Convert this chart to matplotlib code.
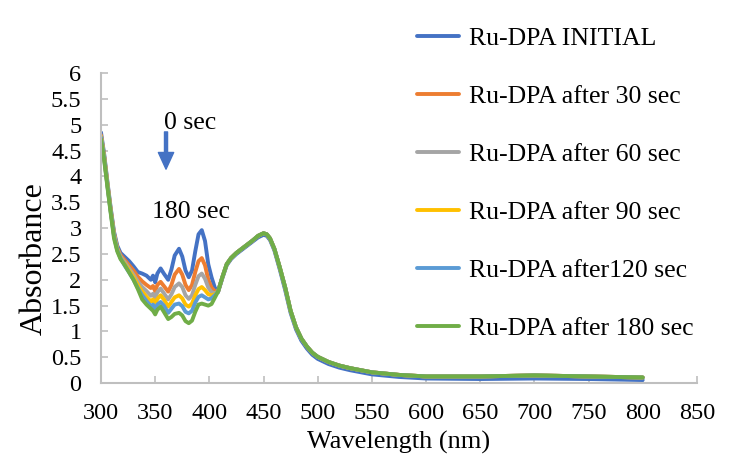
import numpy as np
import matplotlib.pyplot as plt

plt.rcParams['font.family'] = ['Liberation Serif', 'DejaVu Serif']

# wavelengths (nm) for the structured region, shared by all series
wl_front = [300, 303, 306, 309, 312, 315, 318, 322, 326, 330, 334, 338, 342, 346, 348,
            350, 352, 355, 358, 362, 365, 368, 372, 375, 378, 381, 384, 387, 390, 393,
            396, 399, 402, 405]
# wavelengths for the common band and tail
wl_tail = [408, 412, 416, 420, 425, 430, 435, 440, 445, 450, 453, 456, 460, 465, 470,
           475, 480, 485, 490, 495, 500, 510, 520, 530, 540, 550, 575, 600, 650, 700,
           750, 800]

initial = [4.85, 4.42, 3.88, 3.38, 2.93, 2.66, 2.52, 2.44, 2.36, 2.26, 2.15, 2.12, 2.08, 2.00, 2.08,
           1.95, 2.12, 2.22, 2.12, 2.00, 2.20, 2.47, 2.60, 2.45, 2.18, 2.05, 2.18, 2.55, 2.88, 2.96,
           2.75, 2.30, 2.05, 1.85]
s30 = [4.80, 4.38, 3.85, 3.35, 2.90, 2.62, 2.48, 2.38, 2.28, 2.18, 2.06, 1.97, 1.90, 1.84, 1.88,
       1.78, 1.90, 1.96, 1.88, 1.77, 1.90, 2.10, 2.21, 2.10, 1.90, 1.80, 1.90, 2.15, 2.36, 2.42,
       2.28, 2.00, 1.85, 1.78]
s60 = [4.78, 4.36, 3.83, 3.33, 2.88, 2.60, 2.45, 2.34, 2.22, 2.10, 1.97, 1.86, 1.78, 1.69, 1.73,
       1.64, 1.76, 1.83, 1.74, 1.62, 1.72, 1.86, 1.93, 1.86, 1.70, 1.63, 1.70, 1.90, 2.07, 2.12,
       2.02, 1.85, 1.76, 1.74]
s90 = [4.77, 4.35, 3.82, 3.32, 2.86, 2.58, 2.43, 2.30, 2.18, 2.05, 1.90, 1.77, 1.67, 1.58, 1.62,
       1.52, 1.63, 1.70, 1.62, 1.48, 1.57, 1.66, 1.70, 1.64, 1.52, 1.48, 1.54, 1.70, 1.82, 1.86,
       1.80, 1.72, 1.70, 1.72]
s120 = [4.75, 4.33, 3.80, 3.30, 2.84, 2.57, 2.42, 2.27, 2.14, 2.00, 1.84, 1.70, 1.59, 1.49, 1.52,
        1.43, 1.52, 1.57, 1.50, 1.36, 1.44, 1.52, 1.54, 1.49, 1.38, 1.35, 1.40, 1.56, 1.67, 1.70,
        1.66, 1.62, 1.64, 1.70]
s180 = [4.72, 4.30, 3.78, 3.28, 2.80, 2.55, 2.40, 2.28, 2.14, 2.00, 1.82, 1.62, 1.52, 1.44, 1.40,
        1.33, 1.42, 1.48, 1.38, 1.24, 1.28, 1.34, 1.36, 1.31, 1.20, 1.16, 1.21, 1.38, 1.52, 1.54,
        1.52, 1.50, 1.53, 1.65]

tail_initial = [1.76, 2.03, 2.28, 2.40, 2.50, 2.58, 2.66, 2.74, 2.82, 2.87, 2.85, 2.77, 2.57, 2.20, 1.80,
                1.36, 1.04, 0.82, 0.67, 0.55, 0.47, 0.37, 0.30, 0.25, 0.21, 0.17, 0.12, 0.09, 0.08, 0.09,
                0.08, 0.06]
tail_other = [1.77, 2.05, 2.30, 2.42, 2.52, 2.60, 2.68, 2.76, 2.85, 2.90, 2.88, 2.80, 2.60, 2.24, 1.85,
              1.40, 1.08, 0.86, 0.71, 0.59, 0.51, 0.41, 0.34, 0.29, 0.25, 0.21, 0.16, 0.13, 0.13, 0.15,
              0.13, 0.11]

labels = ['Ru-DPA INITIAL', 'Ru-DPA after 30 sec', 'Ru-DPA after 60 sec',
          'Ru-DPA after 90 sec', 'Ru-DPA after120 sec', 'Ru-DPA after 180 sec']
colors = ['#4472C4', '#ED7D31', '#A5A5A5', '#FFC000', '#5B9BD5', '#70AD47']
fronts = [initial, s30, s60, s90, s120, s180]
tails = [tail_initial] + [tail_other] * 5

fig = plt.figure(figsize=(7.32, 4.65), dpi=100)
ax = fig.add_axes([0.138, 0.176, 0.814, 0.667])

wl = wl_front + wl_tail
for front, tail, c, lab in zip(fronts, tails, colors, labels):
    ax.plot(wl, front + tail, color=c, lw=2.8, label=lab, solid_capstyle='round')

ax.set_xlim(300, 850)
ax.set_ylim(0, 6)
ax.set_xticks(np.arange(300, 851, 50))
ax.set_yticks(np.arange(0, 6.01, 0.5))
ax.set_yticklabels(['0', '0.5', '1', '1.5', '2', '2.5', '3', '3.5', '4', '4.5', '5', '5.5', '6'])
for s in ['top', 'right']:
    ax.spines[s].set_visible(False)
for s in ['left', 'bottom']:
    ax.spines[s].set_color('#BFBFBF')
    ax.spines[s].set_linewidth(1.5)
ax.tick_params(direction='in', length=5, width=1.2, color='#BFBFBF', labelsize=17.5)
ax.tick_params(axis='x', pad=14)
ax.tick_params(axis='y', pad=14)
ax.set_xlabel('Wavelength (nm)', fontsize=19, labelpad=5)
ax.set_ylabel('Absorbance', fontsize=23)
ax.yaxis.set_label_coords(-0.088, 0.403)

ax.annotate('', xy=(360, 4.14), xytext=(360, 4.86),
            arrowprops=dict(width=2.2, headwidth=11, headlength=12,
                            color='#4472C4', shrink=0))
ax.text(382, 5.03, '0 sec', fontsize=18.5, ha='center', va='center')
ax.text(383, 3.31, '180 sec', fontsize=18.5, ha='center', va='center')

fig.legend(loc='upper left', bbox_to_anchor=(0.555, 0.963), frameon=False,
           fontsize=18.5, handlelength=1.65, handletextpad=0.38, labelspacing=1.36,
           borderaxespad=0)

fig.savefig('out.png', dpi=100)
